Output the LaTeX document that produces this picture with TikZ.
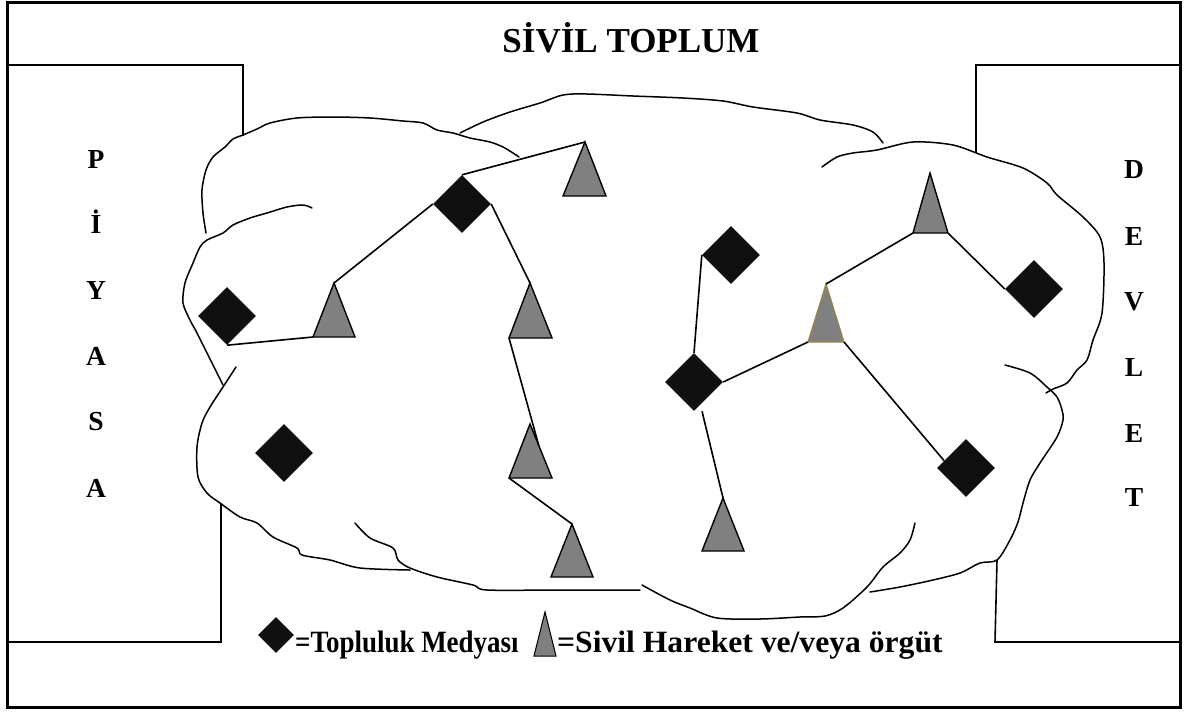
\documentclass[tikz,border=0pt]{standalone}
\usepackage{fontspec}
\setmainfont{Liberation Serif}
\usetikzlibrary{shapes.geometric,calc}
\tikzset{
  outer/.style={line width=3pt},
  boxline/.style={line width=1.6pt},
  cloud/.style={line width=1.5pt, line join=round, line cap=round},
  conn/.style={line width=1.6pt},
  dia/.style={diamond, fill=black!94, draw=none, minimum width=58pt, minimum height=58pt, inner sep=0pt},
  ldia/.style={diamond, fill=black!94, draw=none, minimum width=36pt, minimum height=36pt, inner sep=0pt},
  tri/.style={fill=black!50, draw=black, line width=1.4pt, line join=miter},
  lbl/.style={font=\fontsize{27.5}{30}\selectfont\bfseries, inner sep=0pt, anchor=base},
  ttl/.style={font=\fontsize{35}{38}\selectfont\bfseries, inner sep=0pt, anchor=base},
  leg/.style={font=\fontsize{31}{34}\selectfont\bfseries, inner sep=0pt, anchor=base west},
}
\newcommand\mytri[7][tri]{%
  \coordinate (#2a) at (#3,#4);
  \coordinate (#2l) at (#5,#7);
  \coordinate (#2r) at (#6,#7);
  \draw[#1] (#2a) -- (#2l) -- (#2r) -- cycle;}
\begin{document}
\begin{tikzpicture}[x=1pt, y=-1pt]
\useasboundingbox (0,0) rectangle (1198,713);
% outer frame
\draw[outer] (7,2) rectangle (1180,707);
\node[ttl] (title) at (631,52) {SİVİL TOPLUM};
% left box (Piyasa)
\draw[boxline] (7,65) -- (243,65) -- (243,136);
\draw[boxline] (221,503) -- (221,642) -- (7,642);
% right box (Devlet)
\draw[boxline] (1180,65) -- (976,65) -- (976,153);
\draw[boxline] (997,560) -- (995,642) -- (1180,642);
% side letters
\foreach \t/\yy [count=\i] in {P/168,İ/233,Y/299,A/365,S/430,A/497}
  \node[lbl] (p\i) at (96,\yy) {\t};
\foreach \t/\yy [count=\i] in {D/178,E/245,V/310,L/376,E/442,T/506}
  \node[lbl] (v\i) at (1134,\yy) {\t};
% cloud outlines
\draw[cloud] plot[smooth, tension=0.5] coordinates {(206,233) (203,213) (202,190) (206,170) (213,157) (225,147) (233,139) (243,135) (257,129) (270,123) (297,118) (333,117) (370,118) (403,121) (423,123) (437,130) (453,133) (470,138) (490,142) (503,147) (513,153) (519,157)};
\draw[cloud] plot[smooth, tension=0.5] coordinates {(460,133) (483,122) (510,112) (540,103) (563,95) (587,94) (633,96) (683,98) (723,101) (753,107) (797,113) (820,120) (853,125) (873,132) (883,143)};
\draw[cloud] plot[smooth, tension=0.5] coordinates {(822,167) (837,157) (853,153) (877,150) (913,142) (953,145) (987,157) (1023,168) (1047,183) (1057,195) (1083,217) (1100,237) (1104,263) (1102,313) (1093,340) (1087,360) (1077,370) (1067,383) (1053,389) (1046,393)};
\draw[cloud] plot[smooth, tension=0.5] coordinates {(1005,365) (1030,373) (1047,387) (1057,397) (1062,410) (1063,420) (1057,437) (1040,463) (1030,480) (1023,503) (1018,522) (1010,540) (997,560) (980,563) (960,573) (933,580) (900,587) (870,592)};
\draw[cloud] plot[smooth, tension=0.5] coordinates {(312,208) (303,205) (287,207) (267,213) (250,218) (233,225) (223,233) (207,240) (200,247) (193,263) (185,283) (183,303) (190,320) (197,333) (207,353) (217,373) (223,385)};
\draw[cloud] plot[smooth, tension=0.5] coordinates {(236,367) (223,387) (210,407) (202,423) (197,447) (198,477) (207,493) (220,503) (240,517) (257,523) (273,537) (297,548) (302,555) (330,560) (360,568) (410,570)};
\draw[cloud] plot[smooth, tension=0.5] coordinates {(355,523) (370,538) (393,548) (398,560) (410,568) (437,577) (473,585) (487,590) (560,590) (640,590)};
\draw[cloud] plot[smooth, tension=0.5] coordinates {(642,585) (670,600) (690,608) (717,618) (760,619) (800,617) (825,616) (843,608) (867,587) (883,567) (900,553) (910,540) (915,523)};
% shapes
\node[dia] (d1) at (227,316) {};
\node[dia] (d2) at (284,453) {};
\node[dia] (d3) at (462,204) {};
\node[dia] (d4) at (731,255) {};
\node[dia] (d5) at (694,382) {};
\node[dia] (d6) at (1034,289) {};
\node[dia] (d7) at (966,468) {};
\mytri{t1}{334}{283}{313}{355}{337}
\mytri{t2}{585}{142}{563}{606}{196}
\mytri{t3}{530}{283}{509}{552}{338}
\mytri{t4}{530}{424}{509}{552}{478}
\mytri{t5}{572}{524}{551}{593}{577}
\mytri{t6}{723}{498}{702}{744}{551}
\mytri[tri, draw={rgb,255:red,150;green,135;blue,70}, line width=1.2pt]{t7}{826}{284}{808}{844}{342}
\mytri{t8}{930}{173}{913}{948}{233}
% connectors
\draw[conn] (d1.south) -- (t1l);
\draw[conn] (t1a) -- (d3.west);
\draw[conn] (d3.north) -- (t2a);
\draw[conn] (d3.east) -- (t3a);
\draw[conn] (t3l) -- ($(t4a)!0.4!(t4r)$);
\draw[conn] (t4l) -- (t5a);
\draw[conn] (d4.west) -- (d5.north);
\draw[conn] (d5.east) -- (t7l);
\draw[conn] ([xshift=8pt]d5.south) -- (t6a);
\draw[conn] (t7a) -- (t8l);
\draw[conn] (t8r) -- (d6.west);
\draw[conn] (t7r) -- ($(d7.west)!0.25!(d7.north)$);
% legend
\node[ldia] (ld) at (276,635) {};
\node[leg] (lt1) at (295,652) {\scalebox{0.87}[1]{=Topluluk Medyası}};
\mytri[tri, line width=1pt]{lt}{545}{612}{534}{556}{656}
\node[leg] (lt2) at (557,652) {\scalebox{1.02}[1]{=Sivil Hareket ve/veya örgüt}};
\end{tikzpicture}
\end{document}
